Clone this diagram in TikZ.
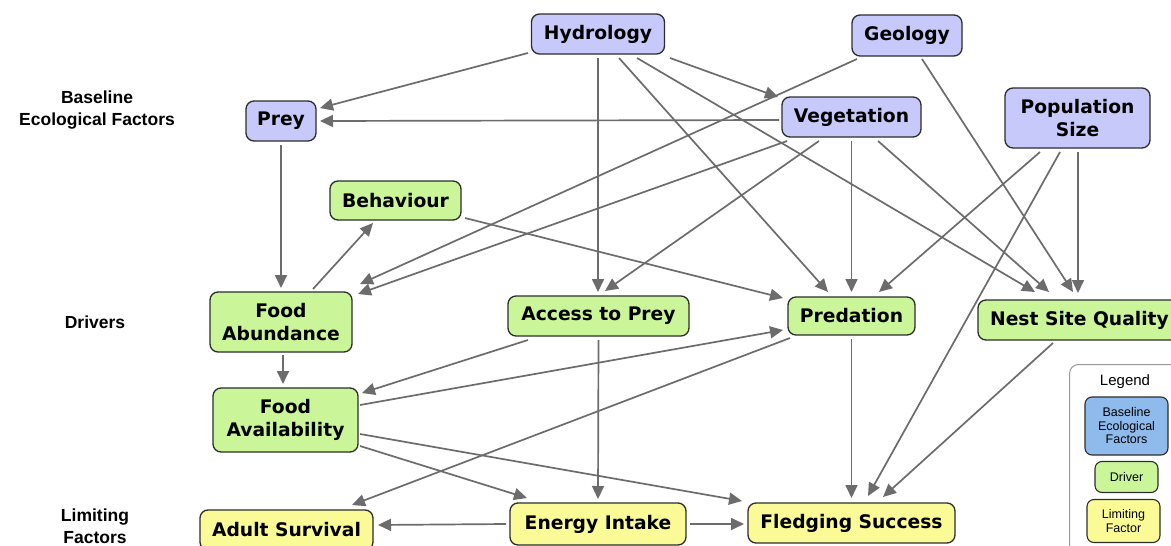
\documentclass[tikz,border=0pt]{standalone}
\usepackage{fontspec}
\setmainfont{DejaVu Sans}
\newfontfamily\labfont{Liberation Sans}
\usetikzlibrary{arrows.meta,calc}
\definecolor{bluefill}{RGB}{199,201,250}
\definecolor{greenfill}{RGB}{202,245,152}
\definecolor{yellowfill}{RGB}{250,250,150}
\definecolor{legblue}{RGB}{143,186,236}
\definecolor{arrowgray}{RGB}{108,108,108}
\definecolor{bordergray}{RGB}{45,45,45}
\tikzset{
  box/.style={draw=bordergray, line width=1.3pt, rounded corners=8pt, inner sep=0pt, align=center,
    font=\fontsize{18.7}{23}\selectfont\bfseries},
  basebox/.style={box, fill=bluefill},
  drivebox/.style={box, fill=greenfill},
  limitbox/.style={box, fill=yellowfill},
  edge/.style={draw=arrowgray, line width=1.7pt, -{Triangle[length=13pt,width=12pt]}},
  sidelab/.style={align=center, font=\labfont\fontsize{17.5}{22}\selectfont\bfseries},
  legitem/.style={draw=bordergray, line width=1.1pt, rounded corners=7pt, inner sep=0pt, align=center,
    font=\labfont\fontsize{12.5}{13.5}\selectfont}
}
\begin{document}
\begin{tikzpicture}[x=1pt,y=-1pt]
\useasboundingbox (0,0) rectangle (1171,546);
\clip (0,0) rectangle (1171,546);
\fill[white] (0,0) rectangle (1171,546);

% side labels
\node[sidelab] (lbase) at (97,110) {Baseline\\Ecological Factors};
\node[sidelab] (ldriv) at (95,322) {Drivers};
\node[sidelab] (llim) at (95,526) {Limiting\\Factors};

% legend
\node[draw=black!40, line width=1pt, rounded corners=9pt, minimum width=130pt, minimum height=200pt, anchor=north west] (legend) at (1069,364) {};
\node[font=\labfont\fontsize{15}{17}\selectfont] (legtitle) at (1125,382) {Legend};
\node[legitem, fill=legblue, minimum width=83pt, minimum height=58pt] (legb) at (1126.5,426) {Baseline\\Ecological\\Factors};
\node[legitem, fill=greenfill, minimum width=63pt, minimum height=31pt] (legd) at (1126.5,477) {Driver};
\node[legitem, fill=yellowfill, minimum width=73pt, minimum height=43pt] (legl) at (1123.5,521) {Limiting\\Factor};

% nodes
\node[basebox, minimum width=133pt, minimum height=40pt] (hyd) at (598,34) {Hydrology};
\node[basebox, minimum width=110pt, minimum height=41pt] (geo) at (907,35.5) {Geology};
\node[basebox, minimum width=70pt, minimum height=40pt] (prey) at (281,121) {Prey};
\node[basebox, minimum width=139pt, minimum height=40pt] (veg) at (851.5,117) {Vegetation};
\node[basebox, minimum width=145pt, minimum height=60pt] (pop) at (1077.5,118) {Population\\Size};
\node[drivebox, minimum width=131pt, minimum height=39pt] (beh) at (395.5,200.5) {Behaviour};
\node[drivebox, minimum width=142pt, minimum height=60pt] (fab) at (281,322) {Food\\Abundance};
\node[drivebox, minimum width=181pt, minimum height=40pt] (acc) at (598.5,316) {Access to Prey};
\node[drivebox, minimum width=127pt, minimum height=38pt] (pred) at (851.5,316) {Predation};
\node[drivebox, minimum width=203pt, minimum height=40pt] (nest) at (1079.5,320) {Nest Site Quality};
\node[drivebox, minimum width=145pt, minimum height=64pt] (fav) at (285.5,420) {Food\\Availability};
\node[limitbox, minimum width=173pt, minimum height=40pt] (adult) at (286.5,530) {Adult Survival};
\node[limitbox, minimum width=176pt, minimum height=42pt] (energy) at (598,524) {Energy Intake};
\node[limitbox, minimum width=207pt, minimum height=40pt] (fledge) at (851.5,523) {Fledging Success};

% edges
\draw[edge] ($(hyd)+(-70,19)$) -- ($(prey)+(39,-13)$);
\draw[edge] ($(veg)+(-72.5,3)$) -- ($(prey)+(39,0)$);
\draw[edge] ($(hyd)+(72,24)$) -- ($(veg)+(-73.5,-20)$);
\draw[edge] ($(hyd)+(0,24)$) -- ($(acc)+(-0.5,-24)$);
\draw[edge] ($(hyd)+(21,24)$) -- ($(pred)+(-23.5,-24)$);
\draw[edge] ($(hyd)+(39,24)$) -- ($(nest)+(-44.5,-28)$);
\draw[edge] ($(geo)+(-50,23.5)$) -- ($(fab)+(79,-38)$);
\draw[edge] ($(veg)+(-64.5,24)$) -- ($(fab)+(77,-28)$);
\draw[edge] ($(veg)+(-32.5,24)$) -- ($(acc)+(6.5,-25)$);
\draw[edge] ($(veg)+(0,24)$) -- ($(pred)+(0,-24)$);
\draw[edge] ($(veg)+(26.5,24)$) -- ($(nest)+(-30.5,-28)$);
\draw[edge] ($(geo)+(15,23.5)$) -- ($(nest)+(-6.5,-28)$);
\draw[edge] ($(pop)+(-37.5,34)$) -- ($(pred)+(27.5,-24)$);
\draw[edge] ($(pop)+(-17.5,34)$) -- ($(fledge)+(16.5,-27)$);
\draw[edge] ($(pop)+(0.5,34)$) -- ($(nest)+(-1.5,-27)$);
\draw[edge] ($(prey)+(0,24)$) -- ($(fab)+(0,-34)$);
\draw[edge] ($(fab)+(32,-33)$) -- ($(beh)+(-22.5,22.5)$);
\draw[edge] ($(beh)+(69.5,17.5)$) -- ($(pred)+(-68.5,-18)$);
\draw[edge] ($(fab)+(2,33)$) -- ($(fav)+(-2.5,-36)$);
\draw[edge] ($(acc)+(-70.5,24)$) -- ($(fav)+(76.5,-27)$);
\draw[edge] ($(fav)+(74.5,-15)$) -- ($(pred)+(-68.5,14)$);
\draw[edge] ($(pred)+(-61.5,22)$) -- ($(adult)+(65.5,-25)$);
\draw[edge] ($(fav)+(74.5,26)$) -- ($(energy)+(-71,-26)$);
\draw[edge] ($(fav)+(74.5,14)$) -- ($(fledge)+(-109.5,-22)$);
\draw[edge] ($(acc)+(0,24)$) -- ($(energy)+(0,-25)$);
\draw[edge] ($(energy)+(-92,0)$) -- ($(adult)+(91.5,-5)$);
\draw[edge] ($(energy)+(92,0)$) -- ($(fledge)+(-107.5,1)$);
\draw[edge] ($(pred)+(0,23)$) -- ($(fledge)+(0,-25)$);
\draw[edge] ($(nest)+(-26.5,23)$) -- ($(fledge)+(31.5,-26)$);
\end{tikzpicture}
\end{document}
